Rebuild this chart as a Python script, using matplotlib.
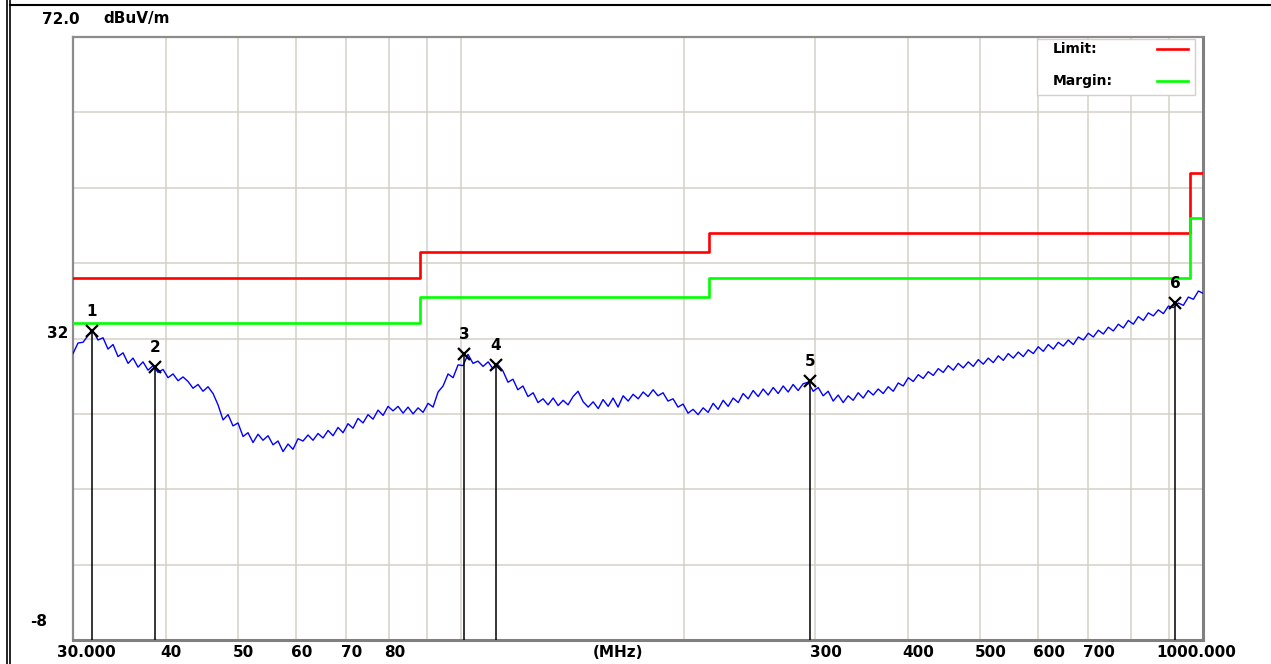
import matplotlib
matplotlib.use("Agg")
import matplotlib.pyplot as plt
import matplotlib.transforms as mtransforms
from matplotlib.patches import Rectangle

# measured trace, MHz / dBuV/m
freq = [
    30.00, 30.47, 30.95, 31.43, 31.92, 32.42, 32.93, 33.44, 33.97, 34.50,
    35.04, 35.59, 36.14, 36.71, 37.28, 37.86, 38.46, 39.06, 39.67, 40.29,
    40.92, 41.56, 42.21, 42.87, 43.54, 44.22, 44.91, 45.61, 46.33, 47.05,
    47.79, 48.54, 49.29, 50.06, 50.85, 51.64, 52.45, 53.27, 54.10, 54.95,
    55.81, 56.68, 57.57, 58.47, 59.38, 60.31, 61.25, 62.21, 63.18, 64.17,
    65.18, 66.20, 67.23, 68.28, 69.35, 70.43, 71.54, 72.65, 73.79, 74.94,
    76.12, 77.31, 78.52, 79.75, 80.99, 82.26, 83.55, 84.85, 86.18, 87.53,
    88.90, 90.29, 91.70, 93.13, 94.59, 96.07, 97.58, 99.10, 100.65, 102.2,
    103.8, 105.4, 107.1, 108.8, 110.4, 112.2, 113.9, 115.7, 117.5, 119.3,
    121.2, 123.1, 125.1, 127.0, 129.0, 131.0, 133.1, 135.2, 137.3, 139.4,
    141.6, 143.8, 146.1, 148.4, 150.7, 153.1, 155.4, 157.9, 160.3, 162.8,
    165.4, 168.0, 170.6, 173.3, 176.0, 178.7, 181.5, 184.3, 187.2, 190.1,
    193.1, 196.1, 199.2, 202.3, 205.5, 208.7, 212.0, 215.3, 218.7, 222.1,
    225.6, 229.1, 232.7, 236.4, 240.0, 243.8, 247.6, 251.5, 255.4, 259.4,
    263.5, 267.6, 271.8, 276.0, 280.3, 284.7, 289.2, 293.7, 298.3, 303.0,
    307.7, 312.5, 317.4, 322.4, 327.4, 332.5, 337.7, 343.0, 348.4, 353.9,
    359.4, 365.0, 370.7, 376.5, 382.4, 388.4, 394.5, 400.7, 406.9, 413.3,
    419.7, 426.3, 433.0, 439.8, 446.6, 453.6, 460.7, 467.9, 475.2, 482.7,
    490.2, 497.9, 505.7, 513.6, 521.6, 529.8, 538.1, 546.5, 555.0, 563.7,
    572.5, 581.5, 590.6, 599.8, 609.2, 618.7, 628.4, 638.2, 648.2, 658.4,
    668.7, 679.2, 689.8, 700.6, 711.5, 722.7, 734.0, 745.5, 757.1, 769.0,
    781.0, 793.2, 805.6, 818.2, 831.0, 844.0, 857.2, 870.6, 884.3, 898.1,
    912.1, 926.4, 940.9, 955.6, 970.6, 985.8, 1000.0,
]
level = [
    30.0, 31.4, 31.5, 32.4, 33.0, 31.8, 32.1, 30.6, 31.2, 29.6,
    30.1, 28.7, 29.4, 28.2, 28.9, 27.8, 28.4, 27.5, 27.9, 26.8,
    27.3, 26.4, 26.9, 26.3, 25.4, 25.9, 25.0, 25.6, 24.7, 23.2,
    21.2, 21.9, 20.4, 20.8, 19.0, 19.5, 18.2, 19.3, 18.5, 19.1,
    17.9, 18.4, 17.0, 18.0, 17.3, 18.7, 18.4, 19.2, 18.5, 19.4,
    18.8, 19.8, 19.1, 20.2, 19.5, 20.7, 20.1, 21.4, 20.8, 21.9,
    21.3, 22.5, 21.8, 23.0, 22.4, 23.0, 22.1, 22.9, 22.0, 22.8,
    22.2, 23.4, 22.9, 24.9, 25.7, 27.3, 26.8, 28.5, 28.4, 29.9,
    28.7, 29.0, 28.3, 28.9, 28.0, 28.5, 27.7, 26.2, 26.6, 25.2,
    25.7, 24.3, 24.8, 23.5, 24.0, 23.2, 24.1, 23.1, 23.8, 23.2,
    24.3, 25.0, 23.6, 22.9, 23.6, 22.7, 23.9, 23.0, 24.1, 22.9,
    24.4, 23.7, 24.6, 24.0, 24.9, 24.3, 25.2, 24.4, 24.8, 23.7,
    24.0, 22.9, 23.3, 22.1, 22.6, 21.9, 22.8, 22.2, 23.4, 22.6,
    23.8, 23.0, 24.1, 23.5, 24.7, 24.0, 25.1, 24.3, 25.3, 24.5,
    25.5, 24.7, 25.7, 24.9, 25.9, 25.1, 26.0, 26.2, 25.0, 25.5,
    24.4, 25.0, 23.7, 24.5, 23.5, 24.4, 23.8, 24.8, 24.1, 25.1,
    24.5, 25.3, 24.7, 25.6, 25.0, 26.1, 25.7, 26.8, 26.3, 27.2,
    26.7, 27.6, 27.1, 28.0, 27.5, 28.4, 27.8, 28.7, 28.1, 28.9,
    28.3, 29.2, 28.6, 29.4, 28.8, 29.7, 29.1, 30.0, 29.4, 30.2,
    29.6, 30.5, 30.0, 30.9, 30.3, 31.2, 30.6, 31.5, 31.0, 31.8,
    31.2, 32.2, 31.8, 32.7, 32.2, 33.1, 32.6, 33.5, 33.0, 33.9,
    33.4, 34.4, 33.9, 34.9, 34.4, 35.4, 35.0, 35.8, 35.3, 36.3,
    36.1, 36.7, 36.4, 37.5, 37.2, 38.3, 38.0,
]

# FCC class B limit and margin (limit - 6 dB)
limit_freq = [30, 88, 216, 960, 1000]
limit_level = [40.0, 43.5, 46.0, 54.0, 54.0]
margin_level = [34.0, 37.5, 40.0, 48.0, 48.0]

marker_id = ["1", "2", "3", "4", "5", "6"]
marker_freq = [31.8, 38.7, 101.0, 111.5, 295.4, 917.0]
marker_level = [33.0, 28.2, 30.0, 28.5, 26.4, 36.7]

xtick_vals = [30, 40, 50, 60, 70, 80, 300, 400, 500, 600, 700, 1000]
xtick_text = ["30.000", "40", "50", "60", "70", "80", "300", "400", "500",
              "600", "700", "1000.000"]
xgrid = [40, 50, 60, 70, 80, 90, 100, 200, 300, 400, 500, 600, 700, 800, 900]
ygrid = list(range(-8, 73, 10))

W, H = 1271, 664
fig = plt.figure(figsize=(W / 100, H / 100), dpi=100)
ax = fig.add_axes([73 / W, 1 - 640 / H, 1130 / W, 603 / H])

grid_c = "#d4d0c8"
for g in xgrid:
    ax.axvline(g, color=grid_c, lw=1.1, zorder=0)
for g in ygrid:
    ax.axhline(g, color=grid_c, lw=1.1, zorder=0)

ax.plot(limit_freq, limit_level, drawstyle="steps-post", color="#ff0000", lw=1.9, zorder=3)
ax.plot(limit_freq, margin_level, drawstyle="steps-post", color="#00ff00", lw=1.9, zorder=3)
ax.plot(freq, level, color="#0000ff", lw=1.0, zorder=4)

ax.vlines(marker_freq, -8, marker_level, color="black", lw=1.1, zorder=5)
ax.plot(marker_freq, marker_level, "x", color="black", ms=9, mew=1.6, zorder=6)
for m, f, lv in zip(marker_id, marker_freq, marker_level):
    ax.annotate(m, (f, lv), xytext=(0, 14), textcoords="offset points",
                ha="center", va="center", fontsize=11, fontweight="bold", zorder=6)

ax.set_xscale("log")
ax.set_xlim(30, 1000)
ax.set_ylim(-8, 72)
ax.set_yticks([])
ax.minorticks_off()
ax.set_xticks(xtick_vals)
ax.set_xticklabels(xtick_text, fontsize=11, fontweight="bold")
ax.tick_params(axis="x", length=0, pad=3.5)
for lab, txt in zip(ax.get_xticklabels(), xtick_text):
    dx = -5
    if txt == "30.000":
        dx = -16
    elif txt == "1000.000":
        dx = -47
    lab.set_horizontalalignment("left")
    lab.set_transform(lab.get_transform() +
                      mtransforms.ScaledTranslation(dx / 100, 0, fig.dpi_scale_trans))

ax.annotate("(MHz)", (0.4823, 0), xycoords="axes fraction", xytext=(0, -3.5),
            textcoords="offset points", ha="center", va="top",
            fontsize=11, fontweight="bold")

for side in ["left", "top"]:
    ax.spines[side].set_color("#8c8c8c")
    ax.spines[side].set_linewidth(1.6)
for side in ["right", "bottom"]:
    ax.spines[side].set_color("#808080")
    ax.spines[side].set_linewidth(2.2)

# legend box
ax.add_patch(Rectangle((0.8531, 0.9038), 0.1398, 0.0929, transform=ax.transAxes,
                       facecolor="white", edgecolor=grid_c, lw=1, zorder=7))
ax.text(0.8673, 0.9801, "Limit:", transform=ax.transAxes, fontsize=10,
        fontweight="bold", va="center", ha="left", zorder=8)
ax.text(0.8673, 0.9270, "Margin:", transform=ax.transAxes, fontsize=10,
        fontweight="bold", va="center", ha="left", zorder=8)
ax.plot([0.9593, 0.9867], [0.9801, 0.9801], transform=ax.transAxes,
        color="#ff0000", lw=1.9, zorder=8)
ax.plot([0.9593, 0.9867], [0.9270, 0.9270], transform=ax.transAxes,
        color="#00ff00", lw=1.9, zorder=8)


def px(x, y):
    return x / W, 1 - y / H


lab_kw = dict(fontsize=11, fontweight="bold", ha="center", va="center")
fig.text(*px(61, 19), "72.0", **lab_kw)
fig.text(*px(137, 19), "dBuV/m", **lab_kw)
fig.text(*px(58, 333), "32", **lab_kw)
fig.text(*px(39, 622), "-8", **lab_kw)

# window frame lines
fig.add_artist(plt.Line2D([7 / W, 7 / W], [0, 1], color="black", lw=1.2))
fig.add_artist(plt.Line2D([10 / W, 10 / W], [0, 1], color="black", lw=1.2))
fig.add_artist(plt.Line2D([10 / W, 1], [1 - 5 / H, 1 - 5 / H], color="black", lw=1.5))

fig.savefig("out.png", dpi=100)
